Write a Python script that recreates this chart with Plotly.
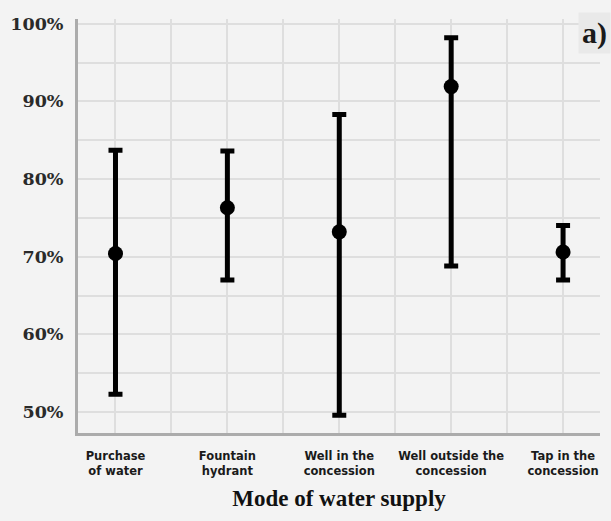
import plotly.graph_objects as go

categories = ["Purchase<br>of water", "Fountain<br>hydrant", "Well in the<br>concession",
              "Well outside the<br>concession", "Tap in the<br>concession"]
means = [70.4, 76.3, 73.2, 91.9, 70.6]
upper = [83.7, 83.6, 88.3, 98.2, 74.0]
lower = [52.3, 67.0, 49.6, 68.8, 67.0]
y_ticks = [50, 60, 70, 80, 90, 100]
y_tick_labels = ["50%", "60%", "70%", "80%", "90%", "100%"]

xs = list(range(len(categories)))
err_plus = [u - m for u, m in zip(upper, means)]
err_minus = [m - l for m, l in zip(means, lower)]

serif = "DejaVu Serif"
sans = "DejaVu Sans"
ticktext = ["<b>" + c + "</b>" for c in categories]

fig = go.Figure()
fig.add_trace(go.Scatter(
    x=xs, y=means, mode="markers",
    marker=dict(color="black", size=15),
    error_y=dict(type="data", symmetric=False, array=err_plus, arrayminus=err_minus,
                 color="black", thickness=5, width=7),
    showlegend=False,
))

fig.update_layout(
    width=611, height=521,
    margin=dict(l=78, r=11, t=19, b=88),
    paper_bgcolor="#f3f3f3",
    plot_bgcolor="#f3f3f3",
    xaxis=dict(
        range=[-0.335, 4.33],
        tickvals=xs, ticktext=ticktext,
        tickfont=dict(family=sans, size=11.5, color="#1a1a1a"),
        showgrid=True, gridcolor="#dedede", gridwidth=2,
        minor=dict(dtick=0.5, tick0=0, showgrid=True, gridcolor="#dedede", gridwidth=2),
        showline=True, linecolor="#ababab", linewidth=3,
        ticks="outside", ticklen=10, tickcolor="rgba(0,0,0,0)",
        zeroline=False, tickangle=0,
        title=dict(text="<b>Mode of water supply</b>",
                   font=dict(family="Liberation Serif", size=23, color="#111111"),
                   standoff=14),
    ),
    yaxis=dict(
        range=[47.3, 100.6],
        tickvals=y_ticks, ticktext=y_tick_labels,
        tickfont=dict(family=serif, size=17.5, color="#2a2a2a", weight="bold"),
        showgrid=True, gridcolor="#dedede", gridwidth=2,
        minor=dict(dtick=5, tick0=50, showgrid=True, gridcolor="#dedede", gridwidth=2),
        showline=True, linecolor="#ababab", linewidth=3,
        ticks="outside", ticklen=8, tickcolor="rgba(0,0,0,0)",
        zeroline=False,
    ),
    annotations=[dict(
        text="<b>a)</b>", xref="paper", yref="paper", x=1.0, y=1.0,
        xanchor="center", yanchor="middle", xshift=-6, yshift=-14,
        showarrow=False, bgcolor="#e9e9e9",
        font=dict(family="Liberation Serif", size=30, color="#1a1a1a"),
        borderpad=3,
    )],
)

fig.write_html("out.html")
